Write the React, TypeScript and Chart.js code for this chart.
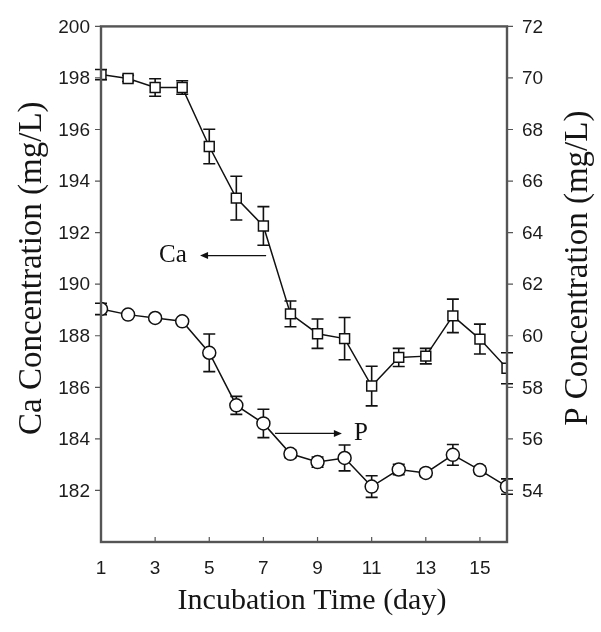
import React, { useEffect, useRef } from 'react';
import { Chart, registerables } from 'chart.js';

Chart.register(...registerables);

// ---- data ----
const days = [1, 2, 3, 4, 5, 6, 7, 8, 9, 10, 11, 12, 13, 14, 15, 16];
const caValues = [198.13, 197.98, 197.63, 197.63, 195.34, 193.34, 192.26, 188.85, 188.08, 187.89, 186.05, 187.16, 187.21, 188.77, 187.87, 186.74];
const caErrors = [0.2, 0.12, 0.34, 0.26, 0.67, 0.85, 0.75, 0.5, 0.57, 0.82, 0.77, 0.35, 0.3, 0.65, 0.58, 0.6];
const pValues = [61.04, 60.82, 60.69, 60.56, 59.34, 57.3, 56.6, 55.42, 55.1, 55.26, 54.15, 54.81, 54.68, 55.38, 54.79, 54.15];
const pErrors = [0.22, 0.1, 0.1, 0.1, 0.73, 0.35, 0.55, 0.15, 0.2, 0.5, 0.42, 0.2, 0.15, 0.4, 0.15, 0.3];

const xTickValues = [1, 3, 5, 7, 9, 11, 13, 15];
const caTickValues = [182, 184, 186, 188, 190, 192, 194, 196, 198, 200];
const pTickValues = [54, 56, 58, 60, 62, 64, 66, 68, 70, 72];
const xRange = [1, 16];
const caRange = [180, 200];
const pRange = [52, 72];

// annotation arrows: [fromDay, toDay, value, labelDay]
const caArrow = [7.1, 4.66, 191.11, 3.66];
const pArrow = [7.43, 9.9, 56.21, 10.6];

const xTitle = 'Incubation Time (day)';
const caTitle = 'Ca Concentration (mg/L)';
const pTitle = 'P Concentration (mg/L)';

const SERIF = '"Liberation Serif", "Times New Roman", serif';
const SANS = '"Liberation Sans", Arial, sans-serif';
const INK = '#111';
const FRAME = '#555';
const TITLE_INK = '#151515';

const decorPlugin = {
  id: 'decor',
  beforeDatasetsDraw(chart: any) {
    const ctx = chart.ctx;
    const xs = chart.scales.x;
    ctx.save();
    ctx.strokeStyle = INK;
    ctx.lineWidth = 1.6;
    chart.data.datasets.forEach((ds: any) => {
      const ys = chart.scales[ds.yAxisID];
      ds.data.forEach((pt: any, i: number) => {
        const e = ds.errors[i];
        const px = xs.getPixelForValue(pt.x);
        const yt = ys.getPixelForValue(pt.y + e);
        const yb = ys.getPixelForValue(pt.y - e);
        const cap = 6;
        ctx.beginPath();
        ctx.moveTo(px, yt);
        ctx.lineTo(px, yb);
        ctx.moveTo(px - cap, yt);
        ctx.lineTo(px + cap, yt);
        ctx.moveTo(px - cap, yb);
        ctx.lineTo(px + cap, yb);
        ctx.stroke();
      });
    });
    ctx.restore();
  },
  afterDraw(chart: any) {
    const ctx = chart.ctx;
    const { left, right, top, bottom } = chart.chartArea;
    const xs = chart.scales.x;
    const yl = chart.scales.y;
    const yr = chart.scales.y1;
    ctx.save();
    // frame
    ctx.strokeStyle = FRAME;
    ctx.lineWidth = 2.4;
    ctx.strokeRect(left, top, right - left, bottom - top);
    // ticks
    ctx.lineWidth = 1.2;
    ctx.beginPath();
    caTickValues.forEach((v) => {
      const y = yl.getPixelForValue(v);
      ctx.moveTo(left - 6, y);
      ctx.lineTo(left, y);
    });
    pTickValues.forEach((v) => {
      const y = yr.getPixelForValue(v);
      ctx.moveTo(right, y);
      ctx.lineTo(right + 6, y);
    });
    xTickValues.forEach((v) => {
      const x = xs.getPixelForValue(v);
      ctx.moveTo(x, bottom);
      ctx.lineTo(x, bottom - 5);
    });
    ctx.stroke();

    // axis titles
    ctx.fillStyle = TITLE_INK;
    ctx.textAlign = 'center';
    ctx.textBaseline = 'middle';
    const midY = (top + bottom) / 2 - 16;
    const drawVertical = (text: string, x: number) => {
      ctx.save();
      ctx.translate(x, midY);
      ctx.rotate(-Math.PI / 2);
      ctx.font = `33px ${SERIF}`;
      ctx.fillText(text, 0, 0);
      ctx.restore();
    };
    drawVertical(caTitle, left - 69);
    drawVertical(pTitle, right + 71);
    ctx.font = `30px ${SERIF}`;
    ctx.fillText(xTitle, (left + right) / 2 + 8, bottom + 59);

    // arrows
    const drawArrow = (arr: number[], ys: any, label: string) => {
      const x1 = xs.getPixelForValue(arr[0]);
      const x2 = xs.getPixelForValue(arr[1]);
      const y = ys.getPixelForValue(arr[2]);
      const dir = x2 > x1 ? 1 : -1;
      ctx.strokeStyle = INK;
      ctx.fillStyle = INK;
      ctx.lineWidth = 1.3;
      ctx.beginPath();
      ctx.moveTo(x1, y);
      ctx.lineTo(x2 - dir * 6, y);
      ctx.stroke();
      ctx.beginPath();
      ctx.moveTo(x2, y);
      ctx.lineTo(x2 - dir * 8, y - 3.5);
      ctx.lineTo(x2 - dir * 8, y + 3.5);
      ctx.closePath();
      ctx.fill();
      ctx.font = `25px ${SERIF}`;
      ctx.textAlign = 'center';
      ctx.textBaseline = 'middle';
      ctx.fillText(label, xs.getPixelForValue(arr[3]), y);
    };
    drawArrow(caArrow, yl, 'Ca');
    drawArrow(pArrow, yr, 'P');
    ctx.restore();
  },
};

export default function App() {
  const ref = useRef<HTMLCanvasElement | null>(null);

  useEffect(() => {
    if (!ref.current) return;
    const tickFont = { family: SANS, size: 19 };
    const chart = new Chart(ref.current, {
      type: 'line',
      data: {
        datasets: [
          {
            label: 'Ca',
            data: days.map((d, i) => ({ x: d, y: caValues[i] })),
            errors: caErrors,
            yAxisID: 'y',
            borderColor: INK,
            borderWidth: 1.5,
            pointStyle: 'rect',
            pointRadius: 7,
            pointBackgroundColor: '#fff',
            pointBorderColor: INK,
            pointBorderWidth: 1.5,
            tension: 0,
          } as any,
          {
            label: 'P',
            data: days.map((d, i) => ({ x: d, y: pValues[i] })),
            errors: pErrors,
            yAxisID: 'y1',
            borderColor: INK,
            borderWidth: 1.5,
            pointStyle: 'circle',
            pointRadius: 6.5,
            pointBackgroundColor: '#fff',
            pointBorderColor: INK,
            pointBorderWidth: 1.5,
            tension: 0,
          } as any,
        ],
      },
      options: {
        responsive: false,
        animation: false,
        layout: { padding: { top: 19, left: 0, right: 0, bottom: 0 } },
        plugins: { legend: { display: false }, tooltip: { enabled: false } },
        scales: {
          x: {
            type: 'linear',
            min: xRange[0],
            max: xRange[1],
            afterBuildTicks: (s: any) => {
              s.ticks = xTickValues.map((v) => ({ value: v }));
            },
            afterFit: (s: any) => {
              s.height = 90;
            },
            grid: { display: false, drawTicks: false },
            border: { display: false },
            ticks: { font: tickFont, color: '#1c1c1c', padding: 15, autoSkip: false, maxRotation: 0 },
            title: { display: false },
          },
          y: {
            type: 'linear',
            position: 'left',
            min: caRange[0],
            max: caRange[1],
            afterBuildTicks: (s: any) => {
              s.ticks = caTickValues.map((v) => ({ value: v }));
            },
            afterFit: (s: any) => {
              s.width = 101;
            },
            grid: { display: false, drawTicks: false },
            border: { display: false },
            ticks: { font: tickFont, color: '#1c1c1c', padding: 11, labelOffset: 1 },
            title: { display: false },
          },
          y1: {
            type: 'linear',
            position: 'right',
            min: pRange[0],
            max: pRange[1],
            afterBuildTicks: (s: any) => {
              s.ticks = pTickValues.map((v) => ({ value: v }));
            },
            afterFit: (s: any) => {
              s.width = 94;
            },
            grid: { display: false, drawTicks: false },
            border: { display: false },
            ticks: { font: tickFont, color: '#1c1c1c', padding: 15, labelOffset: 1 },
            title: { display: false },
          },
        },
      } as any,
      plugins: [decorPlugin],
    });
    return () => chart.destroy();
  }, []);

  return (
    <div style={{ position: 'absolute', left: 0, top: 0, width: 601, height: 632, background: '#fff' }}>
      <canvas ref={ref} width={601} height={632} style={{ display: 'block' }} />
    </div>
  );
}
